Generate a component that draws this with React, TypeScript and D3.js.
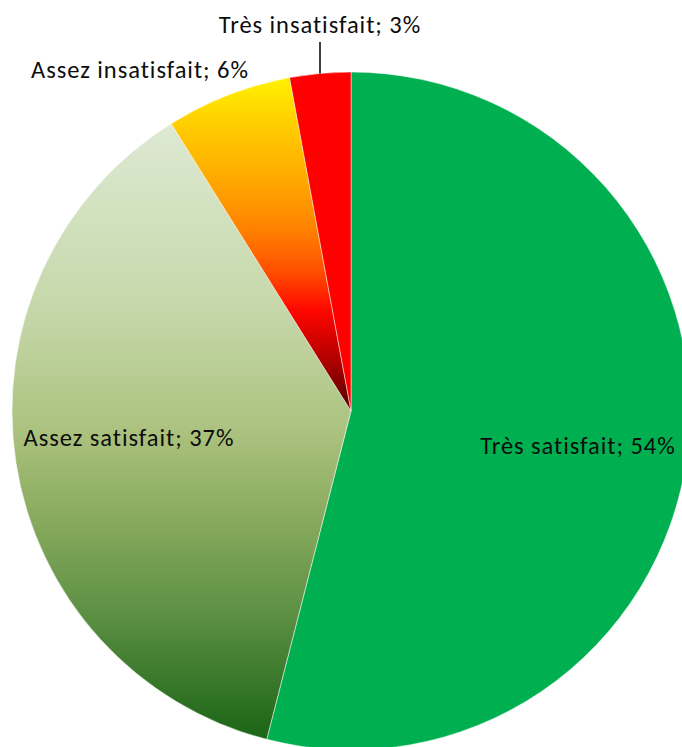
import React from 'react';
import * as d3 from 'd3';

// ---- data ----
const categories = ['Très satisfait', 'Assez satisfait', 'Assez insatisfait', 'Très insatisfait'];
const values = [54.0, 37.1, 6.0, 2.9];
const percentLabels = ['54%', '37%', '6%', '3%'];

// ---- layout / style ----
const W = 682;
const H = 747;
const CX = 351;
const CY = 411;
const R = 339;
const FONT = 'Carlito, Calibri, Lato, "Noto Sans", sans-serif';
const FONT_SIZE = 24.5;
const LETTER_SPACING = 0.95;

// label centre positions (text-anchor middle, baseline)
const labelPos: [number, number][] = [
  [578, 454],
  [129, 446],
  [140, 78],
  [320, 33],
];

type Fill = { id: string; stops?: [number, string][]; solid?: string };
const fills: Fill[] = [
  { id: 'g0', solid: '#00B050' },
  {
    id: 'g1',
    stops: [
      [0, '#DDE9D3'],
      [0.3, '#C6D8AA'],
      [0.5, '#ABC27F'],
      [0.62, '#8EAE62'],
      [0.8, '#5B8F42'],
      [1, '#1B6416'],
    ],
  },
  {
    id: 'g2',
    stops: [
      [0, '#FFF200'],
      [0.13, '#FFD000'],
      [0.31, '#FFA800'],
      [0.46, '#FF8000'],
      [0.58, '#FF5000'],
      [0.7, '#FF0500'],
      [0.85, '#B00000'],
      [1, '#4E0000'],
    ],
  },
  { id: 'g3', solid: '#FF0000' },
];

export default function App() {
  const pie = d3
    .pie<number>()
    .sort(null)
    .value((d) => d)
    .startAngle(0)
    .endAngle(2 * Math.PI);
  const arcs = pie(values);
  const arc = d3.arc<d3.PieArcDatum<number>>().innerRadius(0).outerRadius(R);

  // leader line for the smallest slice
  const leaderX = 320;
  const edgeY = -Math.sqrt(R * R - (leaderX - CX) * (leaderX - CX));

  return (
    <svg
      width={W}
      height={H}
      style={{ position: 'absolute', left: 0, top: 0, background: '#fff' }}
    >
      <defs>
        {fills
          .filter((f) => f.stops)
          .map((f) => (
            <linearGradient key={f.id} id={f.id} x1="0" y1="0" x2="0" y2="1">
              {f.stops!.map(([o, c], i) => (
                <stop key={i} offset={o} stopColor={c} />
              ))}
            </linearGradient>
          ))}
      </defs>
      <g transform={`translate(${CX},${CY})`}>
        {arcs.map((a, i) => (
          <path
            key={categories[i]}
            d={arc(a) || ''}
            fill={fills[i].solid ? fills[i].solid : `url(#${fills[i].id})`}
            stroke="#ffffff"
            strokeOpacity={0.6}
            strokeWidth={0.8}
          />
        ))}
        <line
          x1={leaderX - CX}
          x2={leaderX - CX}
          y1={42 - CY}
          y2={edgeY}
          stroke="#000"
          strokeWidth={1.5}
        />
      </g>
      {categories.map((c, i) => (
        <text
          key={c}
          x={labelPos[i][0]}
          y={labelPos[i][1]}
          textAnchor="middle"
          fontFamily={FONT}
          fontSize={FONT_SIZE}
          letterSpacing={LETTER_SPACING}
          fill="#0d0d0d"
        >
          {`${c}; ${percentLabels[i]}`}
        </text>
      ))}
    </svg>
  );
}
